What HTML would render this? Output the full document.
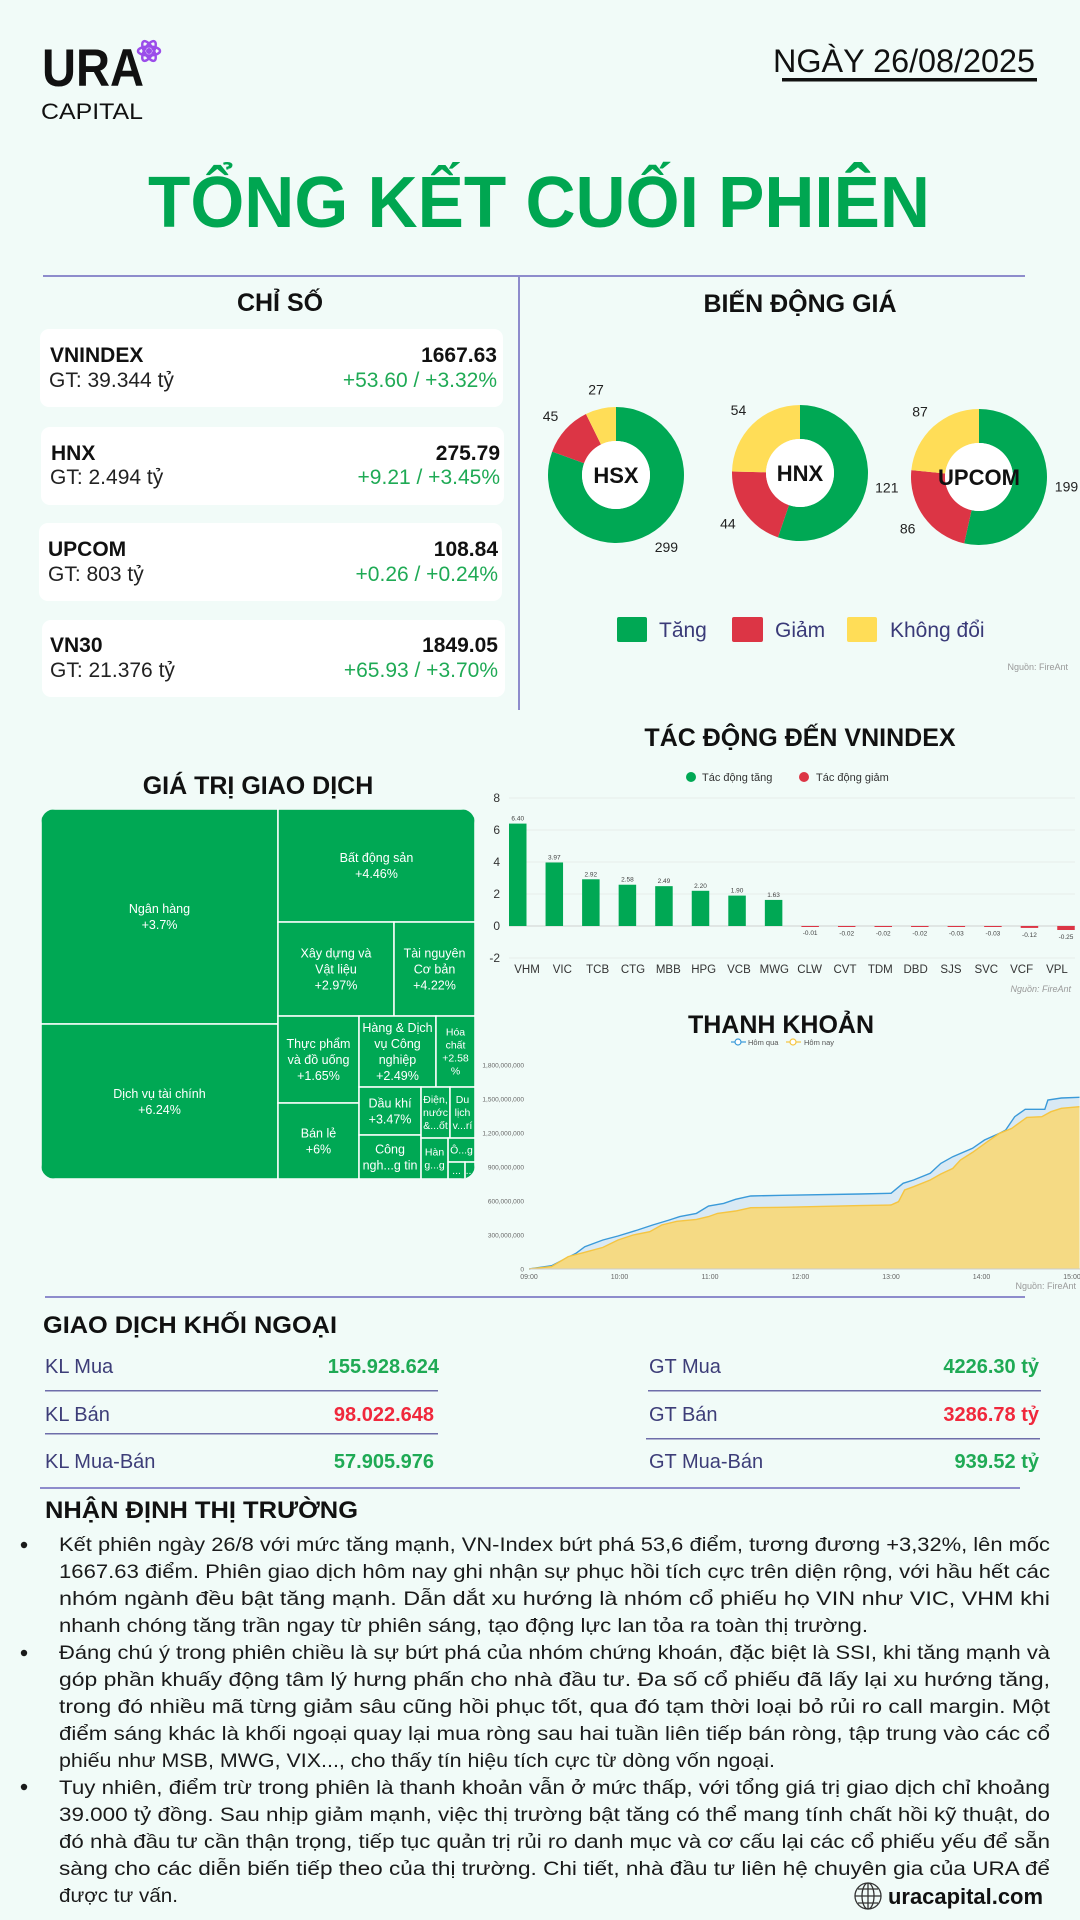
<!DOCTYPE html>
<html><head><meta charset="utf-8"><title>Tổng kết cuối phiên</title>
<style>
html,body{margin:0;padding:0;background:#f1fbf8;}
svg{display:block;font-family:"Liberation Sans","DejaVu Sans",sans-serif;}
</style></head>
<body>
<svg id="page" width="1080" height="1920" viewBox="0 0 1080 1920" xmlns="http://www.w3.org/2000/svg">
<rect x="0" y="0" width="1080" height="1920" fill="#f1fbf8"/>

<!-- Header -->
<g>
  <text x="42" y="86" font-size="53" font-weight="bold" fill="#111" textLength="102" lengthAdjust="spacingAndGlyphs">URA</text>
  <g transform="translate(149,51)">
    <ellipse rx="11" ry="4.5" fill="none" stroke="#9b4dea" stroke-width="2.5"/>
    <ellipse rx="11" ry="4.5" fill="none" stroke="#9b4dea" stroke-width="2.5" transform="rotate(60)"/>
    <ellipse rx="11" ry="4.5" fill="none" stroke="#9b4dea" stroke-width="2.5" transform="rotate(120)"/>
    <circle r="3" fill="#9b4dea"/>
  </g>
  <text x="41" y="119" font-size="22" fill="#111" textLength="102" lengthAdjust="spacingAndGlyphs">CAPITAL</text>
</g>
<text x="773" y="72" font-size="32" fill="#111" textLength="262" lengthAdjust="spacingAndGlyphs">NGÀY 26/08/2025</text>
<rect x="782" y="78" width="255" height="3.5" fill="#111"/>
<text x="148" y="227" font-size="72" font-weight="bold" fill="#00a651" textLength="782" lengthAdjust="spacingAndGlyphs">TỔNG KẾT CUỐI PHIÊN</text>

<rect x="43" y="275" width="982" height="2" fill="#8e8ccc"/>
<rect x="518" y="276" width="2" height="434" fill="#8e8ccc"/>

<!-- Indices -->
<text x="280" y="311" font-size="25" font-weight="bold" fill="#111" text-anchor="middle">CHỈ SỐ</text>
<g>
  <rect x="40" y="329" width="463" height="78" rx="9" fill="#fff"/>
  <text x="50" y="362" font-size="21" font-weight="bold" fill="#111">VNINDEX</text>
  <text x="49" y="387" font-size="21" fill="#222">GT: 39.344 tỷ</text>
  <text x="497" y="362" font-size="21" font-weight="bold" fill="#111" text-anchor="end">1667.63</text>
  <text x="497" y="387" font-size="21" fill="#1faa55" text-anchor="end">+53.60 / +3.32%</text>
</g>
<g>
  <rect x="41" y="427" width="463" height="78" rx="9" fill="#fff"/>
  <text x="51" y="460" font-size="21" font-weight="bold" fill="#111">HNX</text>
  <text x="50" y="484" font-size="21" fill="#222">GT: 2.494 tỷ</text>
  <text x="500" y="460" font-size="21" font-weight="bold" fill="#111" text-anchor="end">275.79</text>
  <text x="500" y="484" font-size="21" fill="#1faa55" text-anchor="end">+9.21 / +3.45%</text>
</g>
<g>
  <rect x="39" y="523" width="463" height="78" rx="9" fill="#fff"/>
  <text x="48" y="556" font-size="21" font-weight="bold" fill="#111">UPCOM</text>
  <text x="48" y="581" font-size="21" fill="#222">GT: 803 tỷ</text>
  <text x="498" y="556" font-size="21" font-weight="bold" fill="#111" text-anchor="end">108.84</text>
  <text x="498" y="581" font-size="21" fill="#1faa55" text-anchor="end">+0.26 / +0.24%</text>
</g>
<g>
  <rect x="42" y="620" width="463" height="77" rx="9" fill="#fff"/>
  <text x="50" y="652" font-size="21" font-weight="bold" fill="#111">VN30</text>
  <text x="50" y="677" font-size="21" fill="#222">GT: 21.376 tỷ</text>
  <text x="498" y="652" font-size="21" font-weight="bold" fill="#111" text-anchor="end">1849.05</text>
  <text x="498" y="677" font-size="21" fill="#1faa55" text-anchor="end">+65.93 / +3.70%</text>
</g>

<!-- Price movement donuts -->
<text x="800" y="312" font-size="25" font-weight="bold" fill="#111" text-anchor="middle">BIẾN ĐỘNG GIÁ</text>
<g id="donuts"></g>
<g>
  <rect x="617" y="617" width="30" height="25" rx="2" fill="#00a854"/>
  <text x="659" y="637" font-size="21" fill="#3a3a78">Tăng</text>
  <rect x="732" y="617" width="31" height="25" rx="2" fill="#dc3545"/>
  <text x="775" y="637" font-size="21" fill="#3a3a78">Giảm</text>
  <rect x="847" y="617" width="30" height="25" rx="2" fill="#ffdd57"/>
  <text x="890" y="637" font-size="21" fill="#3a3a78">Không đổi</text>
</g>
<text x="1068" y="670" font-size="9" fill="#999" text-anchor="end">Nguồn: FireAnt</text>

<!-- Treemap -->
<text x="258" y="794" font-size="25" font-weight="bold" fill="#111" text-anchor="middle">GIÁ TRỊ GIAO DỊCH</text>
<defs><clipPath id="tmclip"><rect x="41" y="809" width="434" height="370" rx="14"/></clipPath>
<clipPath id="lqclip"><rect x="529" y="1040" width="551" height="240"/></clipPath></defs>
<g id="treemap" clip-path="url(#tmclip)"></g>

<!-- Impact bar chart -->
<text x="800" y="746" font-size="25" font-weight="bold" fill="#111" text-anchor="middle">TÁC ĐỘNG ĐẾN VNINDEX</text>
<g>
  <circle cx="691" cy="777" r="5" fill="#00a854"/>
  <text x="702" y="781" font-size="11" fill="#333">Tác động tăng</text>
  <circle cx="804" cy="777" r="5" fill="#dc3545"/>
  <text x="816" y="781" font-size="11" fill="#333">Tác động giảm</text>
</g>
<g id="impact"></g>
<text x="1071" y="992" font-size="9" font-style="italic" fill="#999" text-anchor="end">Nguồn: FireAnt</text>

<!-- Liquidity chart -->
<text x="781" y="1033" font-size="25" font-weight="bold" fill="#111" text-anchor="middle">THANH KHOẢN</text>
<g>
  <line x1="731" y1="1042" x2="746" y2="1042" stroke="#3a9ad9" stroke-width="1.2"/>
  <circle cx="738" cy="1042" r="3" fill="#fff" stroke="#3a9ad9" stroke-width="1.2"/>
  <text x="748" y="1045" font-size="7.5" fill="#555">Hôm qua</text>
  <line x1="786" y1="1042" x2="801" y2="1042" stroke="#f5c542" stroke-width="1.2"/>
  <circle cx="793" cy="1042" r="3" fill="#fff" stroke="#f5c542" stroke-width="1.2"/>
  <text x="804" y="1045" font-size="7.5" fill="#555">Hôm nay</text>
</g>
<g id="liquidity"></g>
<text x="1076" y="1289" font-size="9" fill="#999" text-anchor="end">Nguồn: FireAnt</text>

<rect x="45" y="1296" width="980" height="2" fill="#8e8ccc"/>

<!-- Foreign trading -->
<text x="43" y="1333" font-size="24" font-weight="bold" fill="#111" textLength="294" lengthAdjust="spacingAndGlyphs">GIAO DỊCH KHỐI NGOẠI</text>
<g font-size="20">
  <text x="45" y="1373" fill="#3d3d78">KL Mua</text>
  <text x="439" y="1373" fill="#1faa55" font-weight="bold" text-anchor="end">155.928.624</text>
  <rect x="45" y="1390" width="393" height="1.5" fill="#6e6eaa"/>
  <text x="45" y="1421" fill="#3d3d78">KL Bán</text>
  <text x="434" y="1421" fill="#f0283c" font-weight="bold" text-anchor="end">98.022.648</text>
  <rect x="45" y="1433" width="393" height="1.5" fill="#6e6eaa"/>
  <text x="45" y="1468" fill="#3d3d78">KL Mua-Bán</text>
  <text x="434" y="1468" fill="#1faa55" font-weight="bold" text-anchor="end">57.905.976</text>
</g>
<g font-size="20">
  <text x="649" y="1373" fill="#3d3d78">GT Mua</text>
  <text x="1039" y="1373" fill="#1faa55" font-weight="bold" text-anchor="end">4226.30 tỷ</text>
  <rect x="648" y="1390" width="393" height="1.5" fill="#6e6eaa"/>
  <text x="649" y="1421" fill="#3d3d78">GT Bán</text>
  <text x="1039" y="1421" fill="#f0283c" font-weight="bold" text-anchor="end">3286.78 tỷ</text>
  <rect x="646" y="1438" width="394" height="1.5" fill="#6e6eaa"/>
  <text x="649" y="1468" fill="#3d3d78">GT Mua-Bán</text>
  <text x="1039" y="1468" fill="#1faa55" font-weight="bold" text-anchor="end">939.52 tỷ</text>
</g>
<rect x="40" y="1487" width="980" height="2" fill="#8e8ccc"/>

<!-- Market commentary -->
<text x="45" y="1518" font-size="24" font-weight="bold" fill="#111" textLength="313" lengthAdjust="spacingAndGlyphs">NHẬN ĐỊNH THỊ TRƯỜNG</text>
<g font-size="19.5" fill="#1a1a1a">
  <circle cx="24" cy="1545" r="3.2" fill="#1a1a1a"/>
  <circle cx="24" cy="1653" r="3.2" fill="#1a1a1a"/>
  <circle cx="24" cy="1787" r="3.2" fill="#1a1a1a"/>
  <text x="59" y="1551" textLength="991" lengthAdjust="spacingAndGlyphs">Kết phiên ngày 26/8 với mức tăng mạnh, VN-Index bứt phá 53,6 điểm, tương đương +3,32%, lên mốc</text>
  <text x="59" y="1578" textLength="991" lengthAdjust="spacingAndGlyphs">1667.63 điểm. Phiên giao dịch hôm nay ghi nhận sự phục hồi tích cực trên diện rộng, với hầu hết các</text>
  <text x="59" y="1605" textLength="991" lengthAdjust="spacingAndGlyphs">nhóm ngành đều bật tăng mạnh. Dẫn dắt xu hướng là nhóm cổ phiếu họ VIN như VIC, VHM khi</text>
  <text x="59" y="1632" textLength="809" lengthAdjust="spacingAndGlyphs">nhanh chóng tăng trần ngay từ phiên sáng, tạo động lực lan tỏa ra toàn thị trường.</text>
  <text x="59" y="1659" textLength="991" lengthAdjust="spacingAndGlyphs">Đáng chú ý trong phiên chiều là sự bứt phá của nhóm chứng khoán, đặc biệt là SSI, khi tăng mạnh và</text>
  <text x="59" y="1686" textLength="991" lengthAdjust="spacingAndGlyphs">góp phần khuấy động tâm lý hưng phấn cho nhà đầu tư. Đa số cổ phiếu đã lấy lại xu hướng tăng,</text>
  <text x="59" y="1713" textLength="991" lengthAdjust="spacingAndGlyphs">trong đó nhiều mã từng giảm sâu cũng hồi phục tốt, qua đó tạm thời loại bỏ rủi ro call margin. Một</text>
  <text x="59" y="1740" textLength="991" lengthAdjust="spacingAndGlyphs">điểm sáng khác là khối ngoại quay lại mua ròng sau hai tuần liên tiếp bán ròng, tập trung vào các cổ</text>
  <text x="59" y="1767" textLength="716" lengthAdjust="spacingAndGlyphs">phiếu như MSB, MWG, VIX..., cho thấy tín hiệu tích cực từ dòng vốn ngoại.</text>
  <text x="59" y="1794" textLength="991" lengthAdjust="spacingAndGlyphs">Tuy nhiên, điểm trừ trong phiên là thanh khoản vẫn ở mức thấp, với tổng giá trị giao dịch chỉ khoảng</text>
  <text x="59" y="1821" textLength="991" lengthAdjust="spacingAndGlyphs">39.000 tỷ đồng. Sau nhịp giảm mạnh, việc thị trường bật tăng có thể mang tính chất hồi kỹ thuật, do</text>
  <text x="59" y="1848" textLength="991" lengthAdjust="spacingAndGlyphs">đó nhà đầu tư cần thận trọng, tiếp tục quản trị rủi ro danh mục và cơ cấu lại các cổ phiếu yếu để sẵn</text>
  <text x="59" y="1875" textLength="991" lengthAdjust="spacingAndGlyphs">sàng cho các diễn biến tiếp theo của thị trường. Chi tiết, nhà đầu tư liên hệ chuyên gia của URA để</text>
  <text x="59" y="1902" textLength="119" lengthAdjust="spacingAndGlyphs">được tư vấn.</text>
</g>
<g>
  <g fill="none" stroke="#333" stroke-width="1.3">
    <circle cx="868" cy="1896" r="13"/>
    <ellipse cx="868" cy="1896" rx="6" ry="13"/>
    <line x1="855" y1="1896" x2="881" y2="1896"/>
    <line x1="858" y1="1889" x2="878" y2="1889"/>
    <line x1="858" y1="1903" x2="878" y2="1903"/>
    <line x1="868" y1="1883" x2="868" y2="1909"/>
  </g>
  <text x="888" y="1904" font-size="22" font-weight="bold" fill="#111" textLength="155" lengthAdjust="spacingAndGlyphs">uracapital.com</text>
</g>
</svg>

<script>
// ---------- Donut data ----------
const exchanges = ["HSX", "HNX", "UPCOM"];
const upCounts = [299, 121, 199];
const downCounts = [45, 44, 86];
const flatCounts = [27, 54, 87];

// ---------- Impact bar data ----------
const impactTickers = ["VHM","VIC","TCB","CTG","MBB","HPG","VCB","MWG","CLW","CVT","TDM","DBD","SJS","SVC","VCF","VPL"];
const impactValues = [6.40,3.97,2.92,2.58,2.49,2.20,1.90,1.63,-0.01,-0.02,-0.02,-0.02,-0.03,-0.03,-0.12,-0.25];
const impactTicks = [-2, 0, 2, 4, 6, 8];

// ---------- Liquidity data (minutes since 09:00, millions) ----------
const ydayMinutes = [0,15,31,37,49,59,72,82,93,100,111,119,129,137,147,168,219,240,248,255,266,273,281,294,302,312,316,322,329,342,344,353,365];
const ydayValues  = [0,29,138,197,256,291,344,388,432,462,491,556,579,615,644,650,662,668,756,785,844,932,991,1065,1138,1197,1226,1344,1409,1409,1491,1509,1515];
const todayMinutes = [0,15,26,36,49,59,69,80,88,98,111,119,125,137,147,168,219,240,245,249,255,266,273,281,286,294,304,312,320,330,340,346,353,365];
const todayValues  = [0,21,109,144,191,256,300,329,388,421,438,462,491,512,541,544,559,565,594,697,726,785,838,888,962,1029,1124,1197,1241,1338,1344,1388,1418,1432];
const liqYTicks = ["0","300,000,000","600,000,000","900,000,000","1,200,000,000","1,500,000,000","1,800,000,000"];
const liqXTicks = ["09:00","10:00","11:00","12:00","13:00","14:00","15:00"];

// ---------- Treemap data (tỷ đồng) ----------
const sectorNames = ["Ngân hàng","Dịch vụ tài chính","Bất động sản","Xây dựng và|Vật liệu","Tài nguyên|Cơ bản","Thực phẩm|và đồ uống","Bán lẻ","Hàng & Dịch|vụ Công|nghiệp","Hóa|chất","Dầu khí","Công|ngh...g tin","Điện,|nước|&...ốt","Du|lịch|v...rí","Hàn|g...g","Ô...g","...","..."];
const sectorValues = [12380,8925,5410,2650,1850,1712,1496,1328,673,723,663,359,310,269,157,70,41];
const sectorChanges = ["+3.7%","+6.24%","+4.46%","+2.97%","+4.22%","+1.65%","+6%","+2.49%","+2.58|%","+3.47%","","","","","","",""];

const NS = "http://www.w3.org/2000/svg";
function mk(tag, attrs, parent) {
  const e = document.createElementNS(NS, tag);
  for (const k in attrs) e.setAttribute(k, attrs[k]);
  if (parent) parent.appendChild(e);
  return e;
}

// ----- Donuts -----
(function () {
  const g = document.getElementById("donuts");
  const centersX = [616, 800, 979];
  const centersY = [475, 473, 477];
  const R = 68, r = 34, LR = 88;
  const colors = ["#00a854", "#dc3545", "#ffdd57"];
  exchanges.forEach(function (name, i) {
    const vals = [upCounts[i], downCounts[i], flatCounts[i]];
    const tot = vals[0] + vals[1] + vals[2];
    const cx = centersX[i], cy = centersY[i];
    let a0 = 0;
    vals.forEach(function (v, j) {
      const a1 = a0 + v / tot * Math.PI * 2;
      const large = (a1 - a0) > Math.PI ? 1 : 0;
      const p = (a, rad) => [cx + Math.sin(a) * rad, cy - Math.cos(a) * rad];
      const o0 = p(a0, R), o1 = p(a1, R), i1 = p(a1, r), i0 = p(a0, r);
      const d = "M" + o0 + " A" + R + "," + R + " 0 " + large + " 1 " + o1 + " L" + i1 + " A" + r + "," + r + " 0 " + large + " 0 " + i0 + " Z";
      const path = mk("path", { d: d, fill: colors[j] }, g);
      
      
      const am = (a0 + a1) / 2;
      const lp = p(am, LR);
      const t = mk("text", { x: lp[0], y: lp[1] + 5, "font-size": 14, fill: "#222", "text-anchor": "middle" }, g);
      t.textContent = v;
      
      
      a0 = a1;
    });
    mk("circle", { cx: cx, cy: cy, r: r, fill: "#fff" }, g);
    const c = mk("text", { x: cx, y: cy + 8, "font-size": 22, "font-weight": "bold", fill: "#111", "text-anchor": "middle" }, g);
    c.textContent = name;
    
    
  });
})();

// ----- Impact bars -----
(function () {
  const g = document.getElementById("impact");
  const y = v => 926 - v * 16;
  const barX = i => 509 + i * 36.55;
  const labX = i => 527 + i * 35.33;
  impactTicks.forEach(function (t) {
    const gl = mk("line", { x1: 509, x2: 1075, y1: y(t), y2: y(t), stroke: t === 0 ? "#d0d0d0" : "#e8ecea", "stroke-width": 1 }, g);
    
    
    const tl = mk("text", { x: 500, y: y(t) + 4, "font-size": 12, fill: "#333", "text-anchor": "end" }, g);
    tl.textContent = t;
    
    
  });
  impactValues.forEach(function (v, i) {
    const y0 = y(Math.max(v, 0)), h = Math.max(Math.abs(y(v) - y(0)), 1);
    const b = mk("rect", { x: barX(i), y: y0, width: 17.5, height: h, fill: v >= 0 ? "#00a854" : "#dc3545" }, g);
    
    
    const vl = mk("text", { x: barX(i) + 8.75, y: v >= 0 ? y0 - 3 : y(v) + 9, "font-size": 6.5, fill: "#444", "text-anchor": "middle" }, g);
    vl.textContent = v.toFixed(2);
    
    
    const cl = mk("text", { x: labX(i), y: 973, "font-size": 11.5, fill: "#333", "text-anchor": "middle" }, g);
    cl.textContent = impactTickers[i];
    
    
  });
})();

// ----- Liquidity -----
(function () {
  const g = document.getElementById("liquidity");
  const x = m => 529 + m * 90.5 / 60;
  const y = v => 1269 - v * 34 / 300;
  liqYTicks.forEach(function (t, i) {
    const tl = mk("text", { x: 524, y: y(i * 300) + 2.5, "font-size": 6.5, fill: "#666", "text-anchor": "end" }, g);
    tl.textContent = t;
    
    
  });
  liqXTicks.forEach(function (t, i) {
    const tl = mk("text", { x: x(i * 60), y: 1279, "font-size": 7, fill: "#666", "text-anchor": "middle" }, g);
    tl.textContent = t;
    
    
  });
  const plot = mk("g", { "clip-path": "url(#lqclip)" }, g);
  function series(ms, vs, fill, stroke, name) {
    let line = "";
    ms.forEach(function (m, i) { line += (i ? " L" : "M") + x(m).toFixed(1) + "," + y(vs[i]).toFixed(1); });
    const area = line + " L" + x(ms[ms.length - 1]).toFixed(1) + "," + y(0) + " L" + x(ms[0]) + "," + y(0) + " Z";
    const a = mk("path", { d: area, fill: fill }, plot);
    
    
    const l = mk("path", { d: line, fill: "none", stroke: stroke, "stroke-width": 1.4 }, plot);
    
    
  }
  series(ydayMinutes, ydayValues, "#d9e9f4", "#3a9ad9", "liquidity-yesterday");
  series(todayMinutes, todayValues, "#f5da84", "#f5c542", "liquidity-today");
  const ax = mk("line", { x1: 529, x2: 1080, y1: 1269, y2: 1269, stroke: "#ccc", "stroke-width": 1 }, g);
  
  
})();

// ----- Treemap -----
(function () {
  const g = document.getElementById("treemap");
  const tree = { d: "h", c: [
    { d: "v", c: [0, 1] },
    { d: "v", c: [2,
      { d: "h", c: [3, 4] },
      { d: "h", c: [
        { d: "v", c: [5, 6] },
        { d: "v", c: [
          { d: "h", c: [7, 8] },
          { d: "h", c: [
            { d: "v", c: [9, 10] },
            { d: "v", c: [
              { d: "h", c: [11, 12] },
              { d: "h", c: [13, { d: "v", c: [14, { d: "h", c: [15, 16] }] }] }
            ] }
          ] }
        ] }
      ] }
    ] }
  ] };
  function sum(n) { return typeof n === "number" ? sectorValues[n] : n.c.reduce((s, k) => s + sum(k), 0); }
  function lay(n, x0, y0, w, h) {
    if (typeof n === "number") { leaf(n, x0, y0, w, h); return; }
    const tot = sum(n);
    let off = 0;
    n.c.forEach(function (k) {
      const f = sum(k) / tot;
      if (n.d === "h") { lay(k, x0 + off, y0, w * f, h); off += w * f; }
      else { lay(k, x0, y0 + off, w, h * f); off += h * f; }
    });
  }
  function leaf(i, x0, y0, w, h) {
    const r = mk("rect", { x: x0, y: y0, width: w, height: h, fill: "#00a854", stroke: "#ffffff", "stroke-width": 1.5 }, g);
    
    
    let lines = sectorNames[i].split("|");
    if (sectorChanges[i]) lines = lines.concat(sectorChanges[i].split("|"));
    const fs = w < 45 ? 10.5 : 12.5, lh = w < 45 ? 13 : 16;
    const cy = y0 + h / 2 - (lines.length - 1) * lh / 2;
    lines.forEach(function (ln, k) {
      const t = mk("text", { x: x0 + w / 2, y: cy + k * lh + fs * 0.35, "font-size": fs, fill: "#fff", "text-anchor": "middle" }, g);
      t.textContent = ln;
      
      
    });
  }
  lay(tree, 41, 809, 434, 370);
})();
</script>
</body></html>
